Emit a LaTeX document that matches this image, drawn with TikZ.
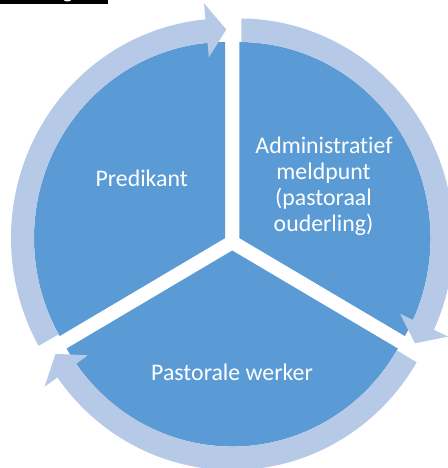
\documentclass[tikz,border=0pt]{standalone}
\usepackage{fontspec}
\setmainfont[Ligatures=NoCommon]{Carlito}
\definecolor{wedgeblue}{RGB}{91,155,213}
\definecolor{ringblue}{RGB}{182,202,232}
\newcommand\pieWedge[1]{%
  \begin{scope}[shift={(#1:8.1)}]
    \fill[wedge] (0,0) -- ({#1-60}:191.25)
      arc[start angle={#1-60}, end angle={#1+60}, radius=191.25] -- cycle;
  \end{scope}}
\newcommand\pieArrow[1]{%
  \begin{scope}[shift={(#1:8.1)}]
    \fill[ring] ({#1+59.4}:214.25)
      arc[start angle={#1+59.4}, end angle={#1-54.7}, radius=214.25]
      -- ({#1-54.7}:230) -- ({#1-60.3}:203.5) -- ({#1-54.7}:177)
      -- ({#1-54.7}:191.25)
      arc[start angle={#1-54.7}, end angle={#1+59.4}, radius=191.25] -- cycle;
  \end{scope}}
\begin{document}
\begin{tikzpicture}[x=1pt,y=1pt,
  wedge/.style={fill=wedgeblue},
  ring/.style={fill=ringblue},
  lbl/.style={text=white,font=\fontsize{23.8}{26}\selectfont,anchor=base,inner sep=0pt}]
\useasboundingbox (0,0) rectangle (447,-468);
% cut-off underlined heading
\fill[black] (0,0) rectangle (108,-4);
\fill[white] (64,0) arc[start angle=180,end angle=360,x radius=3.5,y radius=1.5] -- cycle;
\begin{scope}[shift={(232.25,-242.2)},yscale=1.025]
  \pieWedge{150}
  \pieWedge{30}
  \pieWedge{-90}
  \pieArrow{150}
  \pieArrow{30}
  \pieArrow{-90}
\end{scope}
\node[lbl] (pred) at (141.7,-186.5) {Predikant};
\node[lbl] (adm1) at (324,-153.3) {Administratief};
\node[lbl] (adm2) at (323.5,-179.8) {meldpunt};
\node[lbl] (adm3) at (323.5,-205.7) {(pastoraal};
\node[lbl] (adm4) at (323.5,-231.3) {ouderling)};
\node[lbl] (past) at (232,-380) {Pastorale werker};
\end{tikzpicture}
\end{document}
